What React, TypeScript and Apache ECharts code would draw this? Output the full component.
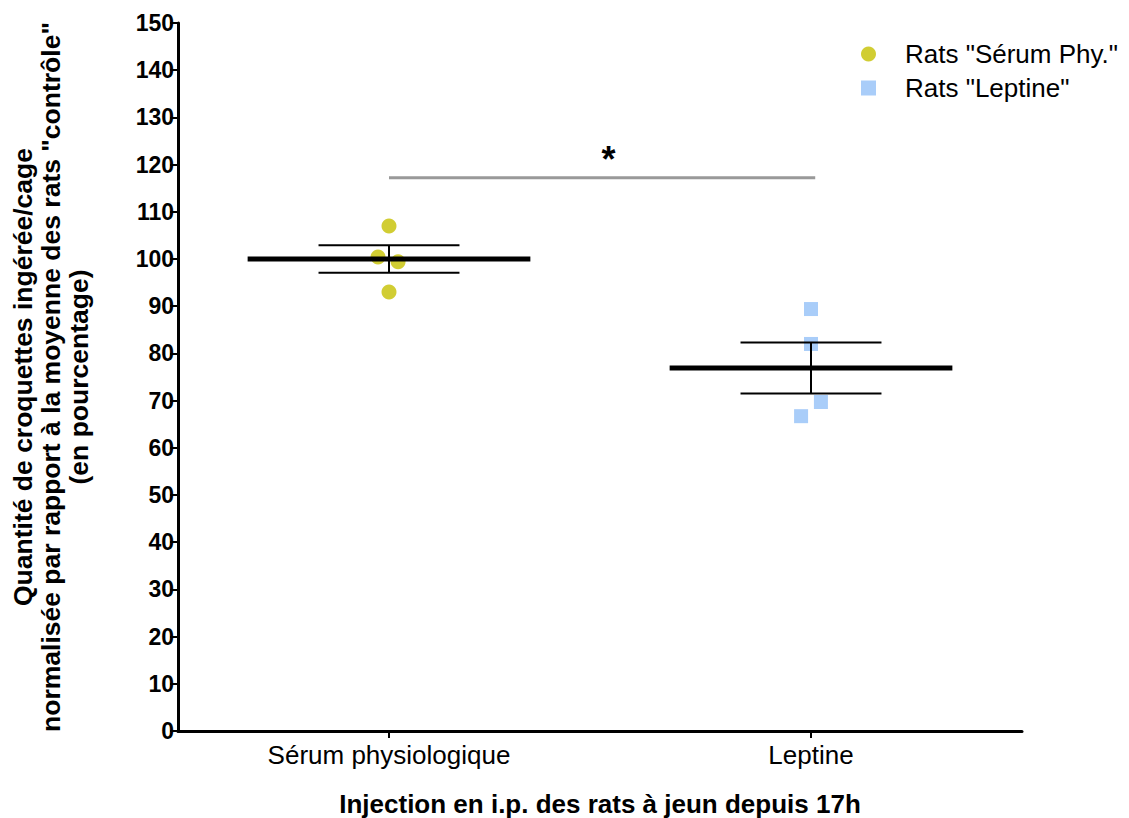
import React, { useEffect, useRef } from "react";
import * as echarts from "echarts";

const categories = ["Sérum physiologique", "Leptine"];
const categoryPositions = [1, 3];
const serumPoints: [number, number][] = [
  [1.0, 107.0],
  [0.948, 100.4],
  [1.043, 99.4],
  [1.0, 93.0],
];
const leptinePoints: [number, number][] = [
  [3.0, 89.4],
  [3.0, 82.0],
  [3.047, 69.7],
  [2.953, 66.7],
];
const groupMeans = [100.0, 76.9];
const groupSems = [2.9, 5.4];
const significanceX = [1, 3.02];
const significanceY = 117.2;
const yTicks = { min: 0, max: 150, interval: 10 };
const seriesNames = ['Rats "Sérum Phy."', 'Rats "Leptine"'];
const colors = ["#C6C000", "#93C1F8"];

const FONT = "'Liberation Sans', Arial, sans-serif";

export default function App() {
  const ref = useRef<HTMLDivElement>(null);
  useEffect(() => {
    if (!ref.current) return;
    const chart = echarts.init(ref.current, null, { renderer: "svg" });
    const meanData = categoryPositions.map((x, i) => [x, groupMeans[i], groupSems[i]]);
    chart.setOption({
      animation: false,
      textStyle: { fontFamily: FONT },
      grid: { left: 178, top: 23, right: 107, bottom: 87, containLabel: false, outerBoundsMode: "none" },
      legend: {
        orient: "vertical",
        left: 856,
        top: 36,
        itemWidth: 15,
        itemHeight: 15,
        itemGap: 8,
        data: [
          { name: seriesNames[0], icon: "circle" },
          { name: seriesNames[1], icon: "rect" },
        ],
        textStyle: { fontSize: 26, color: "#000", fontFamily: FONT, padding: [0, 0, 0, 24] },
      },
      xAxis: {
        type: "value",
        min: 0,
        max: 4,
        interval: 1,
        splitLine: { show: false },
        axisLine: { show: true, lineStyle: { color: "#000", width: 3 } },
        axisTick: { show: true, customValues: categoryPositions, length: 7, lineStyle: { color: "#000", width: 2 } },
        axisLabel: {
          customValues: categoryPositions,
          formatter: (v: number) => {
            const idx = categoryPositions.indexOf(v);
            return idx >= 0 ? categories[idx] : "";
          },
          fontSize: 26,
          color: "#000",
          margin: 11,
          fontFamily: FONT,
        },
        name: "Injection en i.p. des rats à jeun depuis 17h",
        nameLocation: "middle",
        nameGap: 60,
        nameTextStyle: { fontSize: 26, fontWeight: "bold", color: "#000", fontFamily: FONT },
      },
      yAxis: {
        type: "value",
        min: yTicks.min,
        max: yTicks.max,
        interval: yTicks.interval,
        splitLine: { show: false },
        axisLine: { show: true, lineStyle: { color: "#000", width: 3 } },
        axisTick: { show: true, length: 8, lineStyle: { color: "#000", width: 2 } },
        axisLabel: { fontSize: 23, fontWeight: "bold", color: "#000", margin: 4, fontFamily: FONT },
        name: 'Quantité de croquettes ingérée/cage\nnormalisée par rapport à la moyenne des rats "contrôle"\n(en pourcentage)',
        nameLocation: "middle",
        nameGap: 85,
        nameTextStyle: { fontSize: 26.5, fontWeight: "bold", color: "#000", lineHeight: 28, fontFamily: FONT },
      },
      series: [
        {
          name: seriesNames[0],
          type: "scatter",
          data: serumPoints,
          symbol: "circle",
          symbolSize: 15,
          itemStyle: { color: colors[0] },
          z: 3,
        },
        {
          name: seriesNames[1],
          type: "scatter",
          data: leptinePoints,
          symbol: "rect",
          symbolSize: 14,
          itemStyle: { color: colors[1] },
          z: 3,
        },
        {
          name: "meanSem",
          type: "custom",
          data: meanData,
          z: 4,
          renderItem: (params: any, api: any) => {
            const x = api.value(0);
            const m = api.value(1);
            const s = api.value(2);
            const pL = api.coord([x - 0.67, m]);
            const pR = api.coord([x + 0.67, m]);
            const cL = api.coord([x - 0.334, m + s]);
            const cR = api.coord([x + 0.334, m + s]);
            const dL = api.coord([x - 0.334, m - s]);
            const dR = api.coord([x + 0.334, m - s]);
            const top = api.coord([x, m + s]);
            const bot = api.coord([x, m - s]);
            return {
              type: "group",
              children: [
                { type: "line", shape: { x1: pL[0], y1: pL[1], x2: pR[0], y2: pR[1] }, style: { stroke: "#000", lineWidth: 5 } },
                { type: "line", shape: { x1: top[0], y1: top[1], x2: bot[0], y2: bot[1] }, style: { stroke: "#000", lineWidth: 2 } },
                { type: "line", shape: { x1: cL[0], y1: cL[1], x2: cR[0], y2: cR[1] }, style: { stroke: "#000", lineWidth: 2 } },
                { type: "line", shape: { x1: dL[0], y1: dL[1], x2: dR[0], y2: dR[1] }, style: { stroke: "#000", lineWidth: 2 } },
              ],
            };
          },
        },
        {
          name: "significance",
          type: "line",
          data: [
            [significanceX[0], significanceY],
            [significanceX[1], significanceY],
          ],
          symbol: "none",
          lineStyle: { color: "#999", width: 3 },
          z: 2,
          markPoint: {
            symbol: "circle",
            symbolSize: 0,
            data: [{ coord: [(significanceX[0] + significanceX[1]) / 2 + 0.03, significanceY] }],
            label: {
              show: true,
              formatter: "*",
              position: "top",
              distance: 0,
              fontSize: 36,
              fontWeight: "bold",
              color: "#000",
              fontFamily: FONT,
            },
          },
        },
      ],
    });
    return () => chart.dispose();
  }, []);
  return <div ref={ref} style={{ width: 1129, height: 818, position: "absolute", left: 0, top: 0 }} />;
}
